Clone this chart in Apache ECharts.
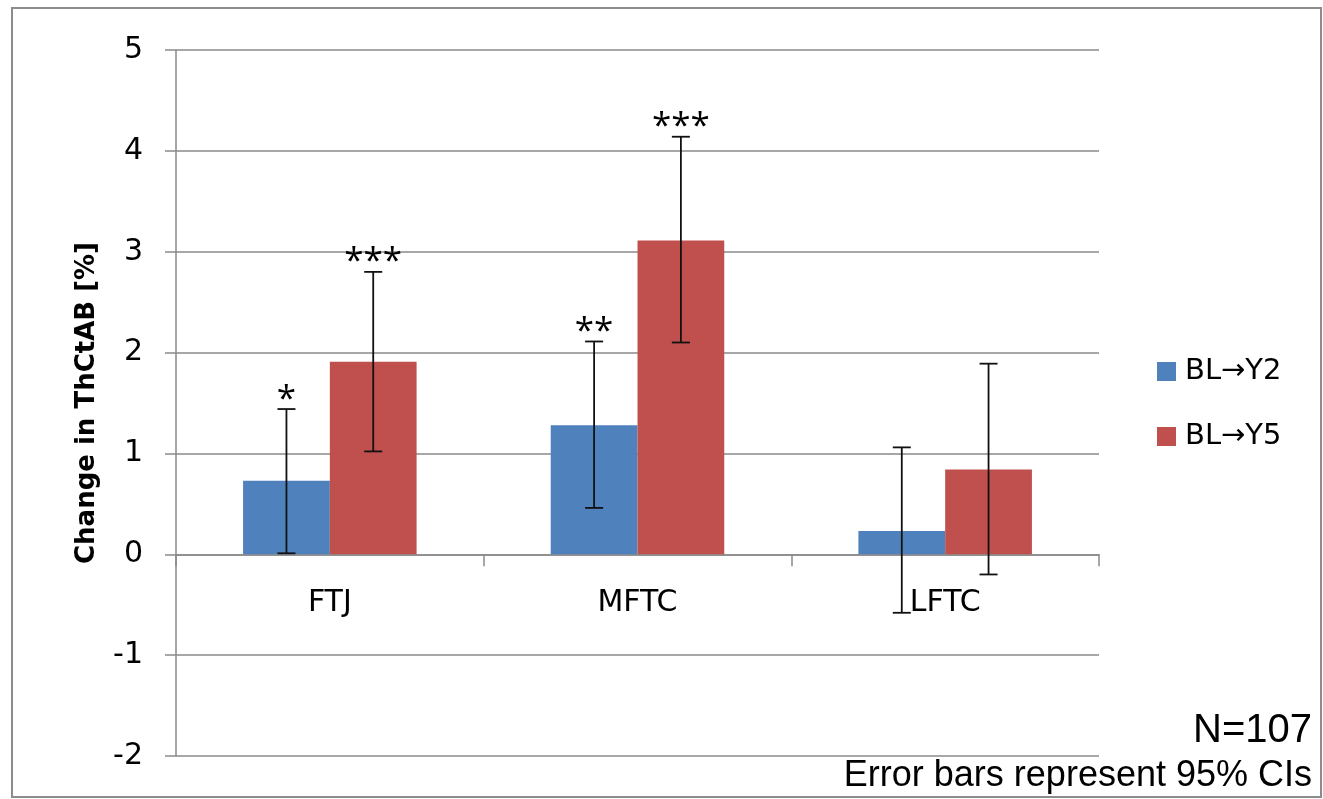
<!DOCTYPE html>
<html><head><meta charset="utf-8">
<script src="https://cdn.jsdelivr.net/npm/echarts@6/dist/echarts.min.js"></script>
<style>html,body{margin:0;padding:0;background:#fff}#c{width:1323px;height:799px}</style>
</head><body><div id="c"></div>
<script>
const categories = ['FTJ', 'MFTC', 'LFTC'];
const seriesNames = ['BL\u2192Y2', 'BL\u2192Y5'];
const y2Values = [0.73, 1.28, 0.23];
const y5Values = [1.91, 3.11, 0.84];
const y2Lower = [0.01, 0.46, -0.58];
const y2Upper = [1.44, 2.11, 1.06];
const y5Lower = [1.02, 2.10, -0.20];
const y5Upper = [2.80, 4.14, 1.89];
const y2Sig = ['*', '**', ''];
const y5Sig = ['***', '***', ''];
const yMin = -2, yMax = 5, yStep = 1;
const noteN = 'N=107';
const noteCI = 'Error bars represent 95% CIs';

const BAR_FRAC = 0.282;
const FONT = '"DejaVu Sans", sans-serif';
const STAR_FONT = '35px "Open Sans", "DejaVu Sans", sans-serif';

function errData(lo, hi, sig) {
  return categories.map((c, i) => [i, lo[i], hi[i], sig[i]]);
}
function errRender(sign, sigArr) {
  return function (params, api) {
    const ci = api.value(0);
    const lo = api.coord([ci, api.value(1)]);
    const hi = api.coord([ci, api.value(2)]);
    const band = api.size([1, 0])[0];
    const x = lo[0] + sign * band * BAR_FRAC / 2;
    const cap = 9;
    const st = { stroke: '#111', lineWidth: 1.8 };
    const children = [
      { type: 'line', shape: { x1: x, y1: lo[1], x2: x, y2: hi[1] }, style: st },
      { type: 'line', shape: { x1: x - cap, y1: lo[1], x2: x + cap, y2: lo[1] }, style: st },
      { type: 'line', shape: { x1: x - cap, y1: hi[1], x2: x + cap, y2: hi[1] }, style: st }
    ];
    const sigText = sigArr[params.dataIndex];
    if (sigText) {
      children.push({
        type: 'text',
        style: { text: sigText, x: x, y: hi[1] + 8, textAlign: 'center', textVerticalAlign: 'bottom',
          font: STAR_FONT, fill: '#000' }
      });
    }
    return { type: 'group', children: children };
  };
}
function catLabelRender(params, api) {
  const p = api.coord([api.value(0), 0]);
  return {
    type: 'text',
    style: { text: categories[params.dataIndex], x: p[0], y: p[1] + 49, textAlign: 'center',
      textVerticalAlign: 'middle', font: '30px ' + FONT, fill: '#000' }
  };
}

const chart = echarts.init(document.getElementById('c'));
chart.setOption({
  animation: false,
  backgroundColor: '#fff',
  grid: { left: 176, right: 224, top: 50, bottom: 43, containLabel: false, outerBoundsMode: 'none' },
  legend: {
    orient: 'vertical', left: 1152, top: 352, padding: 5,
    itemWidth: 19, itemHeight: 19, itemGap: 36, icon: 'rect',
    data: seriesNames,
    textStyle: { fontFamily: FONT, fontSize: 29, color: '#000', padding: [0, 0, 0, 4] }
  },
  xAxis: {
    type: 'category', data: categories,
    axisLine: { onZero: true, lineStyle: { color: '#8a8a8a', width: 1.5 } },
    axisTick: { show: true, length: 12, lineStyle: { color: '#8a8a8a', width: 1.5 } },
    axisLabel: { show: false },
    splitLine: { show: false }
  },
  yAxis: {
    type: 'value', min: yMin, max: yMax, interval: yStep,
    name: 'Change in ThCtAB [%]', nameLocation: 'middle', nameGap: 76,
    nameTextStyle: { fontFamily: FONT, fontSize: 26, fontWeight: 'bold', color: '#000' },
    axisLine: { show: true, lineStyle: { color: '#8a8a8a', width: 1.5 } },
    axisTick: { show: true, length: 11, lineStyle: { color: '#8a8a8a', width: 1.5 } },
    axisLabel: { margin: 33, fontFamily: FONT, fontSize: 30, color: '#000' },
    splitLine: { show: true, lineStyle: { color: '#8a8a8a', width: 1.5 } }
  },
  series: [
    { name: seriesNames[0], type: 'bar', data: y2Values, barWidth: (BAR_FRAC * 100) + '%', barGap: '0%',
      itemStyle: { color: '#4F81BD' } },
    { name: seriesNames[1], type: 'bar', data: y5Values, barWidth: (BAR_FRAC * 100) + '%', barGap: '0%',
      itemStyle: { color: '#C0504D' } },
    { name: 'err2', type: 'custom', data: errData(y2Lower, y2Upper, y2Sig), renderItem: errRender(-1, y2Sig),
      encode: { x: 0, y: [1, 2] }, clip: false, z: 5, silent: true },
    { name: 'err5', type: 'custom', data: errData(y5Lower, y5Upper, y5Sig), renderItem: errRender(1, y5Sig),
      encode: { x: 0, y: [1, 2] }, clip: false, z: 5, silent: true },
    { name: 'catLabels', type: 'custom', data: categories.map((c, i) => [i, 0]), renderItem: catLabelRender,
      encode: { x: 0, y: 1 }, clip: false, z: 4, silent: true }
  ],
  graphic: [
    { type: 'rect', shape: { x: 12, y: 8, width: 1309, height: 789 },
      style: { fill: 'none', stroke: '#8c8c8c', lineWidth: 2 }, z: -1 },
    { type: 'text', x: 1312, y: 731, style: { text: noteN, textAlign: 'right', textVerticalAlign: 'middle',
      font: '40px "Liberation Sans", Arial, sans-serif', fill: '#000' } },
    { type: 'text', x: 1312, y: 776, style: { text: noteCI, textAlign: 'right', textVerticalAlign: 'middle',
      font: '36px "Liberation Sans", Arial, sans-serif', fill: '#000' } }
  ]
});
</script></body></html>
